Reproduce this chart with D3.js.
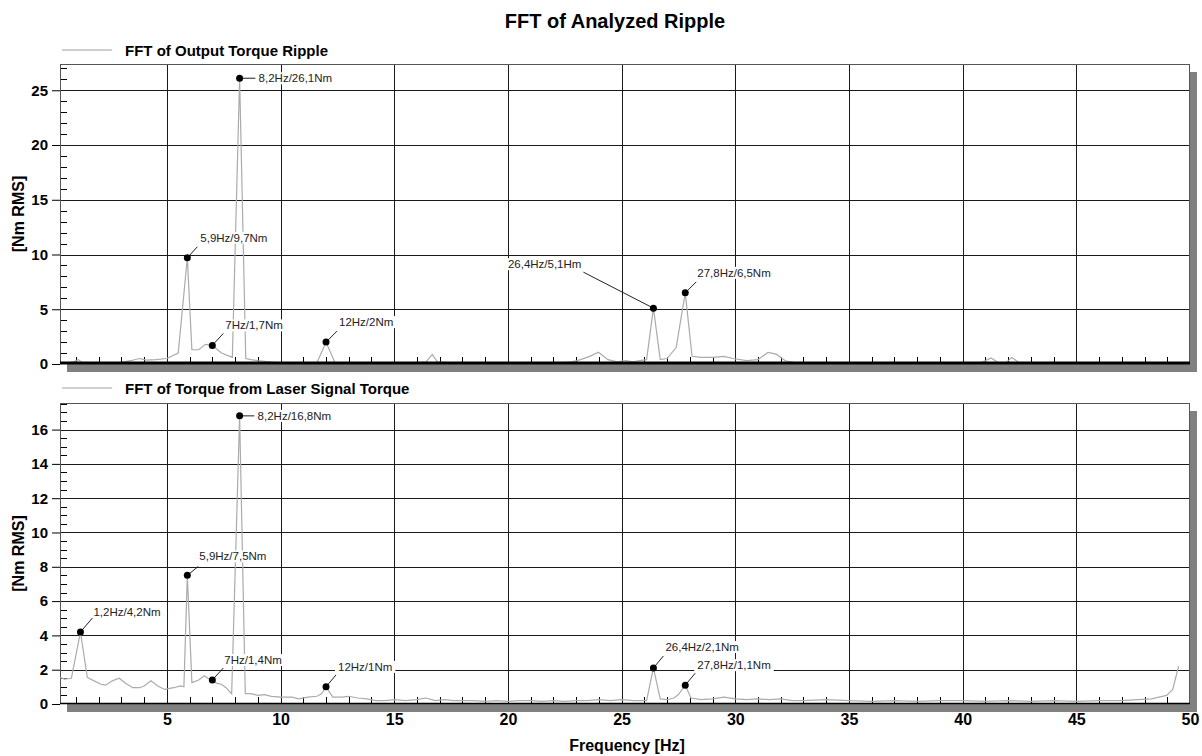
<!DOCTYPE html>
<html>
<head>
<meta charset="utf-8">
<script src="https://cdn.jsdelivr.net/npm/d3@7/dist/d3.min.js"></script>
<style>
  html, body { margin: 0; padding: 0; background: #fff; }
  svg { display: block; font-family: Arial, "Liberation Sans", sans-serif; }
</style>
</head>
<body>
<svg id="chart" width="1202" height="756"></svg>
<script>
// ---------- DATA ----------
const titleText = "FFT of Analyzed Ripple";
const seriesNames = ["FFT of Output Torque Ripple", "FFT of Torque from Laser Signal Torque"];
const xLabel = "Frequency [Hz]";
const yLabel = "[Nm RMS]";

const xTicks = [5, 10, 15, 20, 25, 30, 35, 40, 45, 50];
const yTicksTop = [0, 5, 10, 15, 20, 25];
const yTicksBottom = [0, 2, 4, 6, 8, 10, 12, 14, 16];

// Output torque ripple FFT
const freqTop = [0.3,0.6,0.9,1.1,1.3,1.6,2.0,2.5,3.0,3.4,3.8,4.1,4.5,5.0,5.5,5.9,6.1,6.4,6.7,7.0,7.4,7.88,8.2,8.47,8.7,9.0,9.5,10,11,11.6,12.0,12.4,13,14,15,16,16.4,16.67,16.9,17.5,18,19,20,21,22,22.8,23.2,23.6,23.98,24.4,24.8,25.2,25.5,25.8,26.1,26.4,26.7,27.0,27.4,27.8,28.1,28.5,29.0,29.5,29.9,30.5,31.0,31.44,31.8,32.2,32.7,34,36,38,40,40.8,41.25,41.6,41.9,42.16,42.5,44,46,48,50];
const valTop  = [0.1,0.05,0.2,0.4,0.1,0.05,0.05,0.1,0.15,0.3,0.5,0.35,0.4,0.5,1.0,9.7,1.3,1.3,1.8,1.7,1.0,0.6,26.1,0.5,0.4,0.3,0.2,0.1,0.05,0.1,2.0,0.1,0.05,0.1,0.1,0.1,0.2,0.87,0.2,0.1,0.05,0.1,0.05,0.1,0.05,0.2,0.4,0.7,1.08,0.4,0.2,0.3,0.2,0.3,0.4,5.1,0.4,0.5,1.5,6.5,0.7,0.6,0.6,0.7,0.5,0.3,0.4,1.05,0.9,0.3,0.1,0.05,0.1,0.05,0.05,0.1,0.55,0.1,0.1,0.6,0.1,0.05,0.1,0.05,0.1];

// Laser signal torque FFT
const freqLaser = [0.3,0.5,0.8,1.2,1.5,1.8,2.1,2.3,2.6,2.9,3.2,3.5,3.8,4.0,4.3,4.6,4.9,5.3,5.6,5.75,5.9,6.1,6.4,6.65,6.8,7.0,7.2,7.4,7.6,7.85,8.2,8.45,8.7,9.0,9.3,9.6,10,10.5,10.8,11.2,11.6,11.8,12.0,12.3,12.7,13.0,13.4,13.8,14.2,14.6,15,15.5,16,16.4,16.8,17.2,17.6,18,18.5,19,19.5,20,20.5,21,21.5,22,22.5,23,23.5,24,24.5,25,25.5,26.1,26.4,26.7,27.0,27.3,27.5,27.8,28.05,28.5,29,29.5,30,30.5,31,31.5,32,32.5,33,34,35,36,37,38,39,40,41,42,43,44,45,46,47,47.7,48.3,48.97,49.24,49.5];
const valLaser  = [1.55,1.45,1.5,4.2,1.55,1.35,1.15,1.1,1.35,1.5,1.2,0.95,0.95,1.05,1.35,1.05,0.85,0.95,1.05,1.0,7.5,1.25,1.4,1.65,1.5,1.4,1.2,1.15,0.95,0.6,16.8,0.6,0.6,0.5,0.55,0.45,0.4,0.4,0.3,0.4,0.45,0.6,1.0,0.4,0.4,0.45,0.35,0.3,0.2,0.2,0.25,0.2,0.25,0.35,0.2,0.25,0.2,0.2,0.2,0.15,0.2,0.15,0.2,0.2,0.15,0.2,0.15,0.2,0.2,0.25,0.2,0.25,0.2,0.2,2.1,0.3,0.25,0.35,0.55,1.1,0.35,0.25,0.3,0.4,0.3,0.25,0.3,0.25,0.3,0.2,0.2,0.25,0.2,0.15,0.2,0.15,0.2,0.2,0.15,0.2,0.15,0.2,0.15,0.2,0.2,0.25,0.3,0.5,0.85,2.2];

// Peak annotations
const annFreqTop = [8.2, 5.9, 7.0, 12.0, 26.4, 27.8];
const annValTop  = [26.1, 9.7, 1.7, 2.0, 5.1, 6.5];
const annTextTop = ["8,2Hz/26,1Nm", "5,9Hz/9,7Nm", "7Hz/1,7Nm", "12Hz/2Nm", "26,4Hz/5,1Hm", "27,8Hz/6,5Nm"];

const annFreqBottom = [8.2, 5.9, 1.2, 7.0, 12.0, 26.4, 27.8];
const annValBottom  = [16.8, 7.5, 4.2, 1.4, 1.0, 2.1, 1.1];
const annTextBottom = ["8,2Hz/16,8Nm", "5,9Hz/7,5Nm", "1,2Hz/4,2Nm", "7Hz/1,4Nm", "12Hz/1Nm", "26,4Hz/2,1Nm", "27,8Hz/1,1Nm"];

// ---------- LAYOUT (not data) ----------
// label layout: [leaderDx, leaderDy, textDx, textDy(center), anchor]
const annLayoutTop = [[16,0,19,0,"start"],[10,-11,13,-20,"start"],[11,-12,13,-20,"start"],[11,-11,13,-20,"start"],[-70,-36,-72,-44,"end"],[11,-11,12,-20,"start"]];
const annLayoutBottom = [[15,0,18,0,"start"],[11,-9,12,-19,"start"],[12,-14,13,-20,"start"],[11,-12,12,-20,"start"],[10,-12,12,-20,"start"],[10,-12,12,-21,"start"],[10,-12,12,-20,"start"]];

const svg = d3.select("#chart");
const L = 60, R = 1190;
const x = d3.scaleLinear().domain([0.3, 50]).range([L, R]);

svg.append("text").attr("x", 615).attr("y", 28).attr("text-anchor", "middle")
  .attr("font-size", 20).attr("font-weight", "bold").attr("fill", "#000").text(titleText);

const panels = [
  { name: seriesNames[0], top: 64, bottom: 364, yMax: 27.4, ticks: yTicksTop, minorStep: 1,
    fx: freqTop, fy: valTop, af: annFreqTop, av: annValTop, at: annTextTop, al: annLayoutTop, legendY: 50, thickBase: true },
  { name: seriesNames[1], top: 403, bottom: 704, yMax: 17.55, ticks: yTicksBottom, minorStep: 0.5,
    fx: freqLaser, fy: valLaser, af: annFreqBottom, av: annValBottom, at: annTextBottom, al: annLayoutBottom, legendY: 388, thickBase: false }
];

panels.forEach((p, pi) => {
  const y = d3.scaleLinear().domain([0, p.yMax]).range([p.bottom, p.top]);
  const g = svg.append("g");

  // legend
  g.append("line").attr("x1", 62).attr("x2", 112).attr("y1", p.legendY).attr("y2", p.legendY)
    .attr("stroke", "#a0a0a0").attr("stroke-width", 1);
  g.append("text").attr("x", 125).attr("y", p.legendY + 5.5).attr("font-size", 15).attr("font-weight", "bold")
    .attr("fill", "#000").text(p.name);

  // shadow + plot background
  g.append("rect").attr("x", L + 7).attr("y", p.top + 8).attr("width", R - L).attr("height", p.bottom - p.top)
    .attr("fill", "#808080");
  g.append("rect").attr("x", L).attr("y", p.top).attr("width", R - L).attr("height", p.bottom - p.top)
    .attr("fill", "#fff");

  // gridlines
  g.selectAll(".vg").data(xTicks.filter(d => d < 50)).join("line")
    .attr("x1", d => Math.round(x(d)) + 0.5).attr("x2", d => Math.round(x(d)) + 0.5)
    .attr("y1", p.top).attr("y2", p.bottom).attr("stroke", "#1a1a1a").attr("stroke-width", 1);
  g.selectAll(".hg").data(p.ticks.filter(d => d > 0)).join("line")
    .attr("x1", L).attr("x2", R)
    .attr("y1", d => Math.round(y(d)) + 0.5).attr("y2", d => Math.round(y(d)) + 0.5)
    .attr("stroke", "#1a1a1a").attr("stroke-width", 1);

  // minor ticks x (every 1 Hz)
  const minorX = d3.range(1, 50).filter(d => d % 5 !== 0);
  g.selectAll(".mx").data(minorX).join("line")
    .attr("x1", d => Math.round(x(d)) + 0.5).attr("x2", d => Math.round(x(d)) + 0.5)
    .attr("y1", p.bottom - 7).attr("y2", p.bottom).attr("stroke", "#000");
  // minor ticks y
  const minorY = d3.range(p.minorStep, p.yMax, p.minorStep).filter(d => !p.ticks.includes(+d.toFixed(3)));
  g.selectAll(".my").data(minorY).join("line")
    .attr("x1", L).attr("x2", L + 7)
    .attr("y1", d => Math.round(y(d)) + 0.5).attr("y2", d => Math.round(y(d)) + 0.5)
    .attr("stroke", "#000");

  // y axis with labels
  const yAxis = d3.axisLeft(y).tickValues(p.ticks).tickSize(8).tickPadding(4).tickFormat(d3.format("d"));
  const ya = g.append("g").attr("transform", `translate(${L},0)`).call(yAxis);
  ya.select(".domain").remove();
  ya.selectAll("line").attr("stroke", "#000");
  ya.selectAll("text").attr("font-size", 15).attr("font-weight", "bold").attr("fill", "#000")
    .attr("font-family", "Arial, 'Liberation Sans', sans-serif");

  // y label
  g.append("text").attr("transform", `translate(24,${(p.top + p.bottom) / 2}) rotate(-90)`)
    .attr("text-anchor", "middle").attr("font-size", 16).attr("font-weight", "bold").attr("fill", "#000")
    .text(yLabel);

  // frame
  g.append("rect").attr("x", L + 0.5).attr("y", p.top + 0.5).attr("width", R - L - 1).attr("height", p.bottom - p.top - 1)
    .attr("fill", "none").attr("stroke", "#555").attr("stroke-width", 1);

  // series line
  const pts = p.fx.map((f, i) => [f, p.fy[i]]);
  const line = d3.line().x(d => x(d[0])).y(d => y(d[1]));
  g.append("path").datum(pts).attr("d", line).attr("fill", "none")
    .attr("stroke", "#ababab").attr("stroke-width", 1.2);

  // zero baseline
  g.append("line").attr("x1", L).attr("x2", R).attr("y1", y(0) - (p.thickBase ? 1 : 0.5)).attr("y2", y(0) - (p.thickBase ? 1 : 0.5))
    .attr("stroke", "#000").attr("stroke-width", p.thickBase ? 3 : 1.5);

  // x axis labels (bottom panel only)
  if (pi === 1) {
    const xAxis = d3.axisBottom(x).tickValues(xTicks).tickSize(0).tickPadding(10).tickFormat(d3.format("d"));
    const xa = g.append("g").attr("transform", `translate(0,${p.bottom})`).call(xAxis);
    xa.select(".domain").remove();
    xa.selectAll("text").attr("font-size", 16).attr("font-weight", "bold").attr("fill", "#000")
      .attr("font-family", "Arial, 'Liberation Sans', sans-serif");
    g.append("text").attr("x", 627).attr("y", 751).attr("text-anchor", "middle")
      .attr("font-size", 16).attr("font-weight", "bold").attr("fill", "#000").text(xLabel);
  }

  // annotations
  p.af.forEach((f, i) => {
    const cx = x(f), cy = y(p.av[i]);
    const [ldx, ldy, tdx, tdy, anchor] = p.al[i];
    g.append("line").attr("x1", cx).attr("y1", cy).attr("x2", cx + ldx).attr("y2", cy + ldy)
      .attr("stroke", "#222").attr("stroke-width", 1);
    const t = g.append("text").attr("x", cx + tdx).attr("y", cy + tdy).attr("dy", "0.35em")
      .attr("text-anchor", anchor).attr("font-size", 11.5).attr("fill", "#222").text(p.at[i]);
    const bb = t.node().getBBox();
    g.insert("rect", () => t.node()).attr("x", bb.x - 3).attr("y", bb.y).attr("width", bb.width + 6).attr("height", bb.height)
      .attr("fill", "#fff");
    g.append("circle").attr("cx", cx).attr("cy", cy).attr("r", 3.5).attr("fill", "#000");
  });
});
</script>
</body>
</html>
